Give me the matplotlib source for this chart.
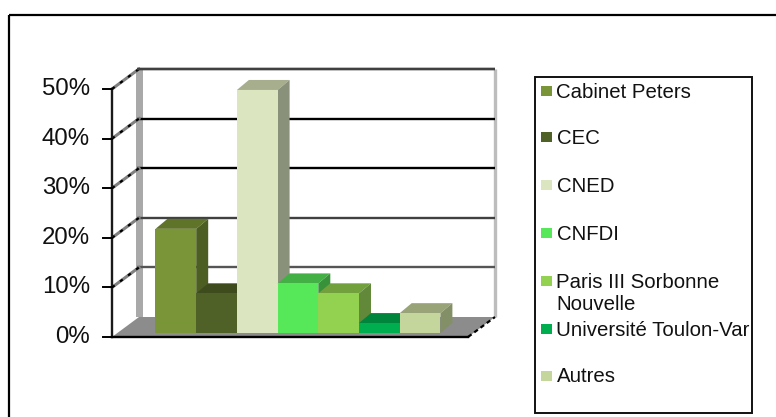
import matplotlib
matplotlib.use("Agg")
import matplotlib.pyplot as plt
from matplotlib.patches import Polygon, Rectangle

plt.rcParams['font.family'] = ['Liberation Sans', 'DejaVu Sans']

# values (percent)
labels = ['Cabinet Peters', 'CEC', 'CNED', 'CNFDI', 'Paris III Sorbonne\nNouvelle',
          'Université Toulon-Var', 'Autres']
values = [21, 8, 49, 10, 8, 2, 4]
front_colors = ['#7a9438', '#506127', '#dbe5c0', '#57e85a', '#93d150', '#00ad4f', '#c4d69b']
top_colors = ['#5f7329', '#3e4c1d', '#a6ae8e', '#43b046', '#71a03c', '#00853c', '#98a477']
side_colors = ['#4d5e22', '#333f17', '#8a917a', '#379239', '#62893a', '#007033', '#838f66']
ticks = [0, 10, 20, 30, 40, 50]
tick_labels = ['0%', '10%', '20%', '30%', '40%', '50%']
grid_colors = ['#555555', '#404040', '#000000', '#000000', '#404040']

W, H = 776, 417
fig = plt.figure(figsize=(W / 100, H / 100), dpi=100)

# full figure layer for the frame and the legend, in pixels
bg = fig.add_axes([0, 0, 1, 1])
bg.set_xlim(0, W)
bg.set_ylim(H, 0)
bg.axis('off')
# the outer frame is cut off by the picture edge on the right and bottom
bg.plot([9, W], [15, 15], color='black', lw=1.6, solid_capstyle='butt')
bg.plot([9, 9], [14.5, H], color='black', lw=1.6, solid_capstyle='butt')
legend_box = Rectangle((534.5, 77), 217, 336, fc='white', ec='#111111', lw=1.4)
bg.add_patch(legend_box)

leg_y = [92, 138, 186, 234, 282, 330, 377]
for y, lab, c in zip(leg_y, labels, front_colors):
    bg.add_patch(Rectangle((541, y - 6), 11, 10, fc=c, ec='none'))
    t = bg.text(556.5, y, lab.split('\n')[0], fontsize=14.7, va='center', color='#111111')
    t.set_clip_path(legend_box)
bg.text(556.5, 305, labels[4].split('\n')[1], fontsize=14.7, va='center', color='#111111')

# chart layer: x is the category number, y is percent on the front plane
left, right, y0, y50 = 112, 468, 337, 89
bar_w = 40.7
first = 155.5
ax = fig.add_axes([left / W, 1 - y0 / H, (right - left) / W, (y0 - y50) / H])
ax.set_xlim((left - first) / bar_w, (right - first) / bar_w)
ax.set_ylim(0, 50)
ax.axis('off')
px_x = 1 / bar_w
px_y = 50 / (y0 - y50)

# offsets of the back plane
bx, by = 27 * px_x, 20 * px_y
x0, x1 = ax.get_xlim()

# floor and walls
ax.add_patch(Rectangle((x0 + bx - 3 * px_x, by), 7 * px_x, 50, fc='#a9a9a9', ec='none', clip_on=False))
ax.add_patch(Polygon([(x0, 0), (x0 + bx, by), (x1 + bx, by), (x1, 0)], fc='#8c8c8c', ec='none', clip_on=False))
ax.plot([x1 + bx, x1 + bx], [by, 50 + by], color='#bdbdbd', lw=2.4, clip_on=False, solid_capstyle='butt')

# back grid lines and the diagonal ticks
for t, c in zip(ticks[1:], grid_colors):
    ax.plot([x0 + bx - 2 * px_x, x1 + bx], [t + by, t + by], color=c, lw=1.7, clip_on=False, solid_capstyle='butt')
    ax.plot([x0, x0 + bx], [t, t + by], color='#808080', lw=2.2, clip_on=False)
    ax.plot([x0, x0 + bx], [t, t + by], color='black', lw=1.6, ls=(0, (1.5, 3)), clip_on=False)
ax.plot([x0 + bx - 2 * px_x, x1 + bx], [50 + by, 50 + by], color='#404040', lw=1.7, clip_on=False, solid_capstyle='butt')

# bars, sitting a little in front of the back plane
base = 4 * px_y
sx, sy = 12 * px_x, 10 * px_y
for i, (v, fc, tc, sc) in enumerate(zip(values, front_colors, top_colors, side_colors)):
    ax.add_patch(Polygon([(i, base + v), (i + sx, base + v + sy), (i + 1 + sx, base + v + sy), (i + 1, base + v)],
                         fc=tc, ec='none', clip_on=False, zorder=3 + i))
    ax.add_patch(Polygon([(i + 1, base), (i + 1 + sx, base + sy), (i + 1 + sx, base + v + sy), (i + 1, base + v)],
                         fc=sc, ec='none', clip_on=False, zorder=3 + i))
    ax.add_patch(Rectangle((i, base), 1, v, fc=fc, ec='none', clip_on=False, zorder=3 + i))

# front axis lines and tick labels
ax.plot([x0, x0], [0, 50], color='#1a1a1a', lw=1.7, clip_on=False, zorder=20)
ax.plot([x0, x1], [0, 0], color='black', lw=1.7, clip_on=False, zorder=20)
ax.plot([x1, x1 + bx], [0, by], color='black', lw=1.6, ls=(0, (2, 1.5)), clip_on=False, zorder=20)
for t, lab in zip(ticks, tick_labels):
    ax.plot([x0 - 9 * px_x, x0], [t, t], color='black', lw=1.4, clip_on=False, zorder=20)
    ax.text(x0 - 22 * px_x, t, lab, ha='right', va='center', fontsize=17.3, color='#111111', clip_on=False)

fig.savefig('out.png', dpi=100)
